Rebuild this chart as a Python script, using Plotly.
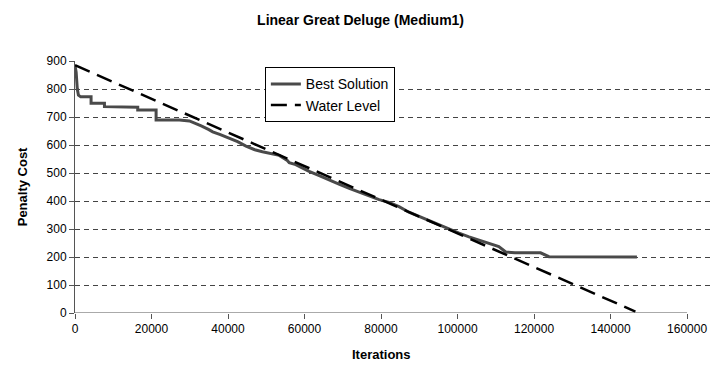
import plotly.graph_objects as go

# Best Solution (iterations, penalty cost)
best_iter = [0, 300, 600, 900, 1500, 4200, 4200, 7700, 7700, 12000, 16400, 16400, 21200, 21200,
             27300, 29900, 31600, 33000, 35000, 36000, 38000, 40300, 42500, 44700, 47000, 49000,
             51000, 53400, 55500, 56000, 57700, 59500, 61200, 64000, 66400, 69000, 71700, 74500,
             76900, 79500, 82100, 84700, 87300, 90000, 92500, 95200, 97800, 100400, 103000,
             105600, 108200, 110800, 112600, 115000, 121700, 123000, 123900, 146900]
best_cost = [885, 860, 800, 778, 772, 772, 749, 749, 737, 735, 735, 725, 725, 689,
             689, 686, 677, 668, 655, 647, 637, 624, 612, 596, 583, 576,
             571, 563, 545, 537, 530, 517, 506, 490, 475, 460, 445, 430,
             417, 405, 395, 380, 360, 344, 330, 314, 300, 285, 272,
             261, 250, 237, 218, 215, 215, 205, 201, 200]

# Water Level
water_iter = [0, 146500]
water_cost = [885, 5]

x_ticks = [0, 20000, 40000, 60000, 80000, 100000, 120000, 140000, 160000]
y_ticks = [0, 100, 200, 300, 400, 500, 600, 700, 800, 900]

FONT = "Liberation Sans, Arial, sans-serif"

fig = go.Figure()
fig.add_trace(go.Scatter(x=best_iter, y=best_cost, mode="lines", name="Best Solution",
                         line=dict(color="#4a4a4a", width=3)))
fig.add_trace(go.Scatter(x=water_iter, y=water_cost, mode="lines", name="Water Level",
                         line=dict(color="black", width=2.5, dash="16px,8px")))

# x-axis line ending at 160000
fig.add_shape(type="line", xref="x", yref="y", x0=0, x1=x_ticks[-1], y0=0, y1=0,
              line=dict(color="#555", width=1))

fig.update_layout(
    width=714, height=368,
    margin=dict(l=75, r=4, t=61, b=55),
    paper_bgcolor="white", plot_bgcolor="white",
    font=dict(family=FONT, size=12, color="black"),
    title=dict(text="<b>Linear Great Deluge (Medium1)</b>", x=0.505, xanchor="center",
               y=0.945, yanchor="middle", font=dict(size=14, family=FONT, color="black")),
    showlegend=True,
    legend=dict(x=0.299, y=0.975, xanchor="left", yanchor="top",
                bordercolor="black", borderwidth=1, bgcolor="white",
                font=dict(size=14, family=FONT, color="black"),
                tracegroupgap=0, itemwidth=30),
    xaxis=dict(range=[0, 166000], tickvals=x_ticks, ticktext=[str(v) for v in x_ticks],
               showgrid=False, zeroline=False, showline=False,
               ticks="outside", ticklen=5, tickcolor="#555", tickwidth=1,
               tickfont=dict(size=12, family=FONT, color="black")),
    yaxis=dict(range=[0, 900], tickvals=y_ticks, ticktext=[str(v) for v in y_ticks],
               showgrid=True, gridcolor="#444", griddash="5px,4px", gridwidth=1,
               zeroline=False, showline=True, linecolor="#555", linewidth=1,
               ticks="outside", ticklen=5, tickcolor="#555", tickwidth=1,
               tickfont=dict(size=12, family=FONT, color="black")),
    annotations=[
        dict(text="<b>Iterations</b>", xref="x", x=80000, yref="paper", y=-0.165,
             xanchor="center", yanchor="middle", showarrow=False,
             font=dict(size=13, family=FONT, color="black")),
        dict(text="<b>Penalty Cost</b>", xref="paper", x=-0.083, yref="paper", y=0.5,
             xanchor="center", yanchor="middle", textangle=-90, showarrow=False,
             font=dict(size=13, family=FONT, color="black")),
    ],
)

fig.write_html("out.html")
